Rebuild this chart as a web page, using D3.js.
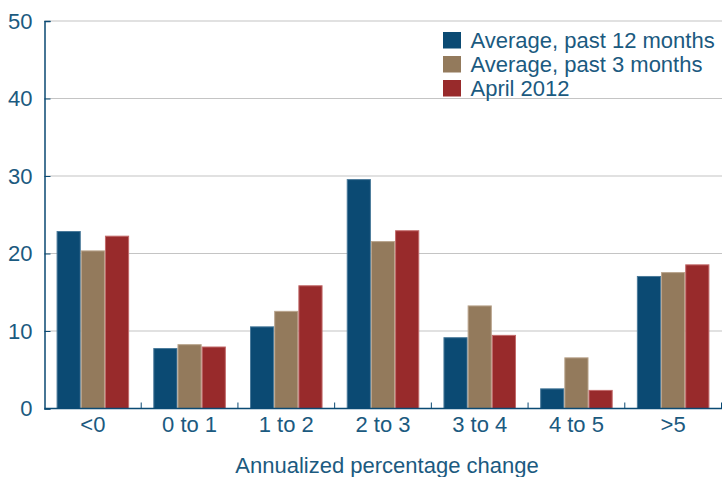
<!DOCTYPE html>
<html>
<head>
<meta charset="utf-8">
<script src="https://cdn.jsdelivr.net/npm/d3@7"></script>
<style>
  html, body { margin: 0; padding: 0; background: #fff; }
  svg { display: block; font-family: "Liberation Sans", Arial, sans-serif; }
</style>
</head>
<body>
<svg id="chart" width="722" height="477"></svg>
<script>
const categories = ["<0", "0 to 1", "1 to 2", "2 to 3", "3 to 4", "4 to 5", ">5"];
const seriesNames = ["Average, past 12 months", "Average, past 3 months", "April 2012"];
const avg12 = [22.9, 7.8, 10.6, 29.6, 9.2, 2.6, 17.1];
const avg3 = [20.4, 8.3, 12.6, 21.6, 13.3, 6.6, 17.6];
const april2012 = [22.3, 8.0, 15.9, 23.0, 9.5, 2.4, 18.6];
const yTicks = [0, 10, 20, 30, 40, 50];
const colors = ["#0b4a73", "#937a5c", "#982a2b"];
const strokes = ["#4a7a9a", "#b9a48c", "#c26a6a"];

const seriesValues = [avg12, avg3, april2012];
const textColor = "#1b5a80";
const axisColor = "#0b4a73";

const svg = d3.select("#chart");
const mLeft = 44.5, mRight = 721.5, mTop = 21, mBottom = 408.5;

const x0 = d3.scaleBand().domain(categories).range([mLeft, mRight])
  .paddingInner(0.25).paddingOuter(0.125);
const x1 = d3.scaleBand().domain(d3.range(3)).range([0, x0.bandwidth()]);
const y = d3.scaleLinear().domain([0, 50]).range([mBottom, mTop]);

// gridlines
svg.append("g").selectAll("line").data(yTicks.filter(d => d > 0)).join("line")
  .attr("x1", mLeft).attr("x2", 722)
  .attr("y1", d => y(d)).attr("y2", d => y(d))
  .attr("stroke", "#c4c4c4").attr("stroke-width", 1.2);

// bars
const groups = svg.append("g").selectAll("g").data(categories).join("g")
  .attr("transform", d => `translate(${x0(d)},0)`);
groups.selectAll("rect")
  .data((c, i) => seriesValues.map((s, k) => ({ k, v: s[i] })))
  .join("rect")
  .attr("x", d => x1(d.k) + 0.5)
  .attr("width", x1.bandwidth() - 1)
  .attr("y", d => y(d.v) + 0.5)
  .attr("height", d => y(0) - y(d.v) - 0.5)
  .attr("fill", d => colors[d.k])
  .attr("stroke", d => strokes[d.k])
  .attr("stroke-width", 1);

// y axis
const yAxis = d3.axisLeft(y).tickValues(yTicks).tickSize(-6).tickPadding(12);
const gy = svg.append("g").attr("transform", `translate(${mLeft},0)`).call(yAxis);
gy.select(".domain").attr("stroke", axisColor).attr("stroke-width", 1.5);
gy.selectAll(".tick line").attr("stroke", axisColor).attr("stroke-width", 1);
gy.selectAll(".tick text").attr("fill", textColor).attr("font-size", 22)
  .attr("font-family", "Liberation Sans, Arial, sans-serif");

// x axis
const step = x0.step();
const boundaries = categories.map(c => x0(c) + x0.bandwidth() + step * 0.125);
const gx = svg.append("g");
gx.append("line").attr("x1", mLeft).attr("x2", 722).attr("y1", mBottom).attr("y2", mBottom)
  .attr("stroke", axisColor).attr("stroke-width", 1.5);
gx.selectAll(".bt").data(boundaries).join("line").attr("class", "bt")
  .attr("x1", d => d).attr("x2", d => d).attr("y1", mBottom).attr("y2", mBottom - 6)
  .attr("stroke", axisColor).attr("stroke-width", 1);
gx.selectAll(".cl").data(categories).join("text").attr("class", "cl")
  .attr("x", d => x0(d) + x0.bandwidth() / 2).attr("y", 432)
  .attr("text-anchor", "middle").attr("fill", textColor).attr("font-size", 22)
  .text(d => d);

svg.append("text").attr("x", 387).attr("y", 473).attr("text-anchor", "middle")
  .attr("fill", textColor).attr("font-size", 22).text("Annualized percentage change");

// legend
const lg = svg.append("g").attr("transform", "translate(443,32)");
const items = lg.selectAll("g").data(seriesNames).join("g")
  .attr("transform", (d, i) => `translate(0,${i * 24})`);
items.append("rect").attr("width", 18).attr("height", 16.5)
  .attr("fill", (d, i) => colors[i]);
items.append("text").attr("x", 27.5).attr("y", 16).attr("fill", textColor)
  .attr("font-size", 22).text(d => d);
</script>
</body>
</html>
